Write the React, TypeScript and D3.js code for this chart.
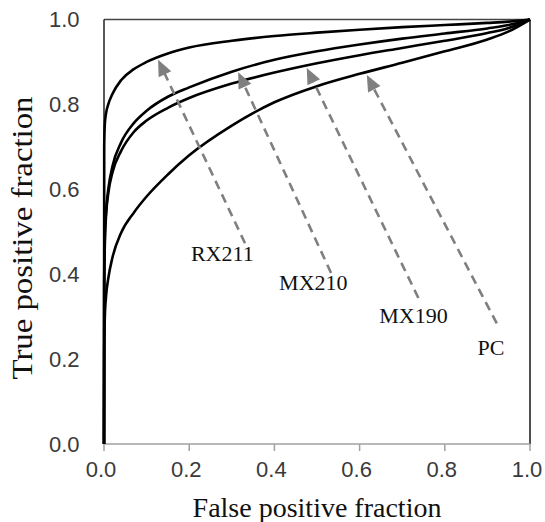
import React from "react";
import * as d3 from "d3";

// False positive fraction sample grid shared by all ROC curves
const fpf = [0, 0.0005, 0.002, 0.005, 0.01, 0.02, 0.04, 0.07, 0.1, 0.15, 0.2, 0.3, 0.4, 0.5, 0.6, 0.7, 0.8, 0.9, 0.95, 1];

// True positive fraction for each system
const tpfRX211 = [0, 0.70, 0.755, 0.78, 0.80, 0.825, 0.857, 0.883, 0.900, 0.920, 0.934, 0.950, 0.961, 0.969, 0.976, 0.982, 0.987, 0.992, 0.995, 1];
const tpfMX210 = [0, 0.40, 0.49, 0.55, 0.60, 0.655, 0.71, 0.756, 0.785, 0.818, 0.840, 0.877, 0.905, 0.925, 0.941, 0.955, 0.967, 0.979, 0.987, 1];
const tpfMX190 = [0, 0.38, 0.47, 0.54, 0.59, 0.64, 0.69, 0.735, 0.762, 0.792, 0.815, 0.849, 0.875, 0.897, 0.916, 0.933, 0.950, 0.968, 0.980, 1];
const tpfPC = [0, 0.22, 0.30, 0.35, 0.39, 0.44, 0.497, 0.545, 0.583, 0.635, 0.68, 0.750, 0.805, 0.843, 0.872, 0.898, 0.925, 0.953, 0.972, 1];

const seriesNames = ["RX211", "MX210", "MX190", "PC"];
const seriesValues = [tpfRX211, tpfMX210, tpfMX190, tpfPC];

// Annotation anchors in data units: label position, arrow tail, arrow tip
const labelPos: [number, number][] = [[0.204, 0.432], [0.411, 0.363], [0.646, 0.285], [0.877, 0.21]];
const arrowTail: [number, number][] = [[0.331, 0.473], [0.533, 0.403], [0.738, 0.344], [0.922, 0.284]];
const arrowTip: [number, number][] = [[0.127, 0.905], [0.315, 0.876], [0.476, 0.886], [0.617, 0.869]];

const tickValues = [0, 0.2, 0.4, 0.6, 0.8, 1.0];

const W = 545;
const H = 522;
const left = 104;
const right = 530;
const top = 19.5;
const bottom = 444;

export default function App() {
  const x = d3.scaleLinear().domain([0, 1]).range([left, right]);
  const y = d3.scaleLinear().domain([0, 1]).range([bottom, top]);

  const line = d3
    .line<[number, number]>()
    .x((d) => x(d[0]))
    .y((d) => y(d[1]))
    .curve(d3.curveMonotoneX);

  const fmt = d3.format(".1f");
  const sans = "'Liberation Sans', Arial, sans-serif";
  const serif = "'Liberation Serif', 'Times New Roman', serif";

  return (
    <svg width={W} height={H} style={{ position: "absolute", left: 0, top: 0 }}>
      <rect width={W} height={H} fill="#fff" />

      {/* frame */}
      <line x1={left} x2={right} y1={top} y2={top} stroke="#444" strokeWidth={1.3} />
      <line x1={right} x2={right} y1={top} y2={bottom} stroke="#222" strokeWidth={1.6} />
      <line x1={left} x2={right} y1={bottom} y2={bottom} stroke="#a0a0a0" strokeWidth={1.5} />
      <line x1={left} x2={left} y1={top} y2={bottom} stroke="#222" strokeWidth={1.5} />

      {/* x ticks */}
      {tickValues.map((t) => (
        <line key={"xt" + t} x1={x(t)} x2={x(t)} y1={bottom} y2={bottom + 7} stroke="#a0a0a0" strokeWidth={1.5} />
      ))}

      {/* x tick labels */}
      {tickValues.map((t) => (
        <text key={"xl" + t} x={x(t) - 3} y={476.5} textAnchor="middle" fontFamily={sans} fontSize={22} fill="#3a3a3a">
          {fmt(t)}
        </text>
      ))}

      {/* y tick labels */}
      {tickValues.map((t) => (
        <text key={"yl" + t} x={79.5} y={y(t)} dy="0.36em" textAnchor="end" fontFamily={sans} fontSize={22} fill="#3a3a3a">
          {fmt(t)}
        </text>
      ))}

      {/* ROC curves */}
      {seriesValues.map((vals, i) => (
        <path
          key={seriesNames[i]}
          d={line(fpf.map((f, j) => [f, vals[j]] as [number, number])) || ""}
          fill="none"
          stroke="#000"
          strokeWidth={2.6}
        />
      ))}

      {/* dashed arrows and labels */}
      {seriesNames.map((name, i) => {
        const [tx, ty] = [x(arrowTail[i][0]), y(arrowTail[i][1])];
        const [hx, hy] = [x(arrowTip[i][0]), y(arrowTip[i][1])];
        const len = Math.hypot(hx - tx, hy - ty);
        const ux = (hx - tx) / len;
        const uy = (hy - ty) / len;
        const headL = 16;
        const headW = 7;
        const bx = hx - ux * headL;
        const by = hy - uy * headL;
        const px = -uy;
        const py = ux;
        const pts = [
          [hx, hy],
          [bx + px * headW, by + py * headW],
          [bx - px * headW, by - py * headW],
        ]
          .map((p) => p.join(","))
          .join(" ");
        return (
          <g key={"ann" + name}>
            <line x1={tx} y1={ty} x2={bx + ux * 2} y2={by + uy * 2} stroke="#7f7f7f" strokeWidth={2.6} strokeDasharray="9,6" />
            <polygon points={pts} fill="#7f7f7f" />
            <text x={x(labelPos[i][0])} y={y(labelPos[i][1])} fontFamily={serif} fontSize={22} fill="#111">
              {name}
            </text>
          </g>
        );
      })}

      {/* axis titles */}
      <text x={(left + right) / 2} y={517} textAnchor="middle" fontFamily={serif} fontSize={28} fill="#111">
        False positive fraction
      </text>
      <text
        transform={`translate(32,238) rotate(-90)`}
        textAnchor="middle"
        fontFamily={serif}
        fontSize={29}
        fill="#111"
        textLength={283}
        lengthAdjust="spacingAndGlyphs"
      >
        True positive fraction
      </text>
    </svg>
  );
}
